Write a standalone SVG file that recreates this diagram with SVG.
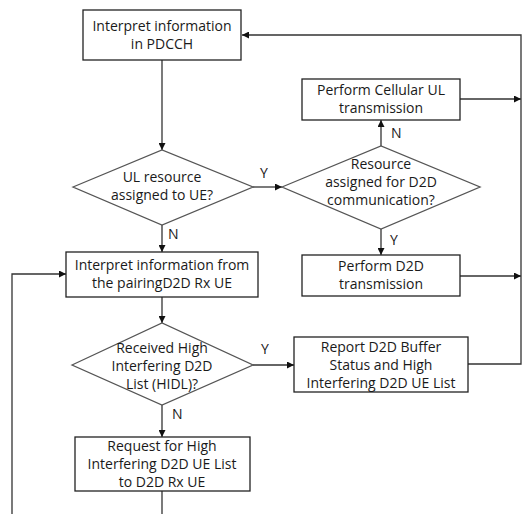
<svg xmlns="http://www.w3.org/2000/svg" width="531" height="514" viewBox="0 0 531 514">
<style>
.box{fill:#fff;stroke:#222;stroke-width:1.3}
.dia{fill:#fff;stroke:#555;stroke-width:1.3}
.ln{fill:none;stroke:#333;stroke-width:1.3}
text{font-family:"Open Sans","Noto Sans",sans-serif;font-size:14px;fill:#1a1a1a;text-anchor:middle}
.lbl{text-anchor:start}
</style>
<defs>
<marker id="ah" viewBox="0 0 10 10" refX="10" refY="5" markerWidth="7" markerHeight="7" markerUnits="userSpaceOnUse" orient="auto">
<path d="M0,0 L10,5 L0,10 z" fill="#111"/>
</marker>
</defs>
<rect width="531" height="514" fill="#fff"/>
<g id="connectors">
<path class="ln" d="M162,60 V150" marker-end="url(#ah)"/>
<path class="ln" d="M253,187 H282" marker-end="url(#ah)"/>
<path class="ln" d="M381,146 V120" marker-end="url(#ah)"/>
<path class="ln" d="M381,229 V255" marker-end="url(#ah)"/>
<path class="ln" d="M162,225 V252" marker-end="url(#ah)"/>
<path class="ln" d="M460,99 H521" marker-end="url(#ah)"/>
<path class="ln" d="M460,276 H521" marker-end="url(#ah)"/>
<path class="ln" d="M468,364 H521 V35 H242" marker-end="url(#ah)"/>
<path class="ln" d="M162,297 V323" marker-end="url(#ah)"/>
<path class="ln" d="M253,365 H294" marker-end="url(#ah)"/>
<path class="ln" d="M162,405 V437" marker-end="url(#ah)"/>
<path class="ln" d="M162,491 V514"/>
<path class="ln" d="M12,514 V274 H66" marker-end="url(#ah)"/>
<text class="lbl" x="260" y="178">Y</text>
<text class="lbl" x="391" y="138">N</text>
<text class="lbl" x="390" y="245">Y</text>
<text class="lbl" x="168" y="239">N</text>
<text class="lbl" x="261" y="354">Y</text>
<text class="lbl" x="172" y="419">N</text>
</g>
<g id="n1">
<rect class="box" x="83" y="10" width="158" height="50"/>
<text x="162" y="31">Interpret information</text>
<text x="162" y="49">in PDCCH</text>
</g>
<g id="n2">
<path class="dia" d="M73,187 L162,150 L253,187 L162,225 Z"/>
<text x="162" y="182">UL resource</text>
<text x="162" y="200">assigned to UE?</text>
</g>
<g id="n3">
<path class="dia" d="M282,187 L381,146 L480,187 L381,229 Z"/>
<text x="381" y="169">Resource</text>
<text x="381" y="187">assigned for D2D</text>
<text x="381" y="205">communication?</text>
</g>
<g id="n4">
<rect class="box" x="302" y="79" width="158" height="41"/>
<text x="381" y="95">Perform Cellular UL</text>
<text x="381" y="113">transmission</text>
</g>
<g id="n5">
<rect class="box" x="302" y="255" width="158" height="41"/>
<text x="381" y="271">Perform D2D</text>
<text x="381" y="289">transmission</text>
</g>
<g id="n6">
<rect class="box" x="66" y="252" width="192" height="45"/>
<text x="162" y="270">Interpret information from</text>
<text x="162" y="288">the pairingD2D Rx UE</text>
</g>
<g id="n7">
<path class="dia" d="M72,365 L162,323 L253,365 L162,405 Z"/>
<text x="162" y="353">Received High</text>
<text x="162" y="371">Interfering D2D</text>
<text x="162" y="389">List (HIDL)?</text>
</g>
<g id="n8">
<rect class="box" x="294" y="337" width="174" height="55"/>
<text x="381" y="352">Report D2D Buffer</text>
<text x="381" y="370">Status and High</text>
<text x="381" y="388">Interfering D2D UE List</text>
</g>
<g id="n9">
<rect class="box" x="75" y="437" width="175" height="54"/>
<text x="162" y="451">Request for High</text>
<text x="162" y="469">Interfering D2D UE List</text>
<text x="162" y="487">to D2D Rx UE</text>
</g>
</svg>
